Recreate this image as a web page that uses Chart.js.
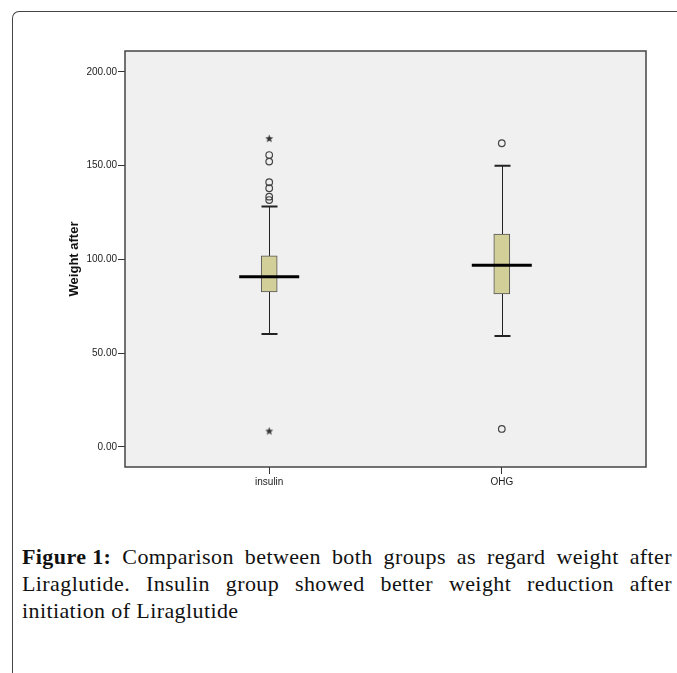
<!DOCTYPE html>
<html lang="en">
<head>
    <meta charset="UTF-8">
    <title>Weight after - boxplot</title>
    <script src="https://cdn.jsdelivr.net/npm/chart.js"></script>
    <style>
        body {
            margin: 0;
            background: #fff;
            width: 677px;
            height: 673px;
            overflow: hidden;
            position: relative;
        }
        .frame {
            position: absolute;
            left: 12px;
            top: 11px;
            width: 700px;
            height: 700px;
            border-top: 1.5px solid #444;
            border-left: 1.5px solid #444;
            border-top-left-radius: 7px;
        }
        #chart {
            position: absolute;
            left: 0;
            top: 0;
        }
        .caption {
            position: absolute;
            left: 22px;
            top: 543px;
            width: 650px;
            font-family: "Liberation Serif", "Times New Roman", serif;
            font-size: 22px;
            line-height: 27px;
            color: #111;
            letter-spacing: 0.4px;
        }
        .caption .line { text-align: justify; text-align-last: justify; white-space: nowrap; }
        .caption .line.last { text-align: left; text-align-last: left; }
        .caption .fig { display: inline-block; font-weight: bold; }
    </style>
</head>
<body>
    <div class="frame"></div>
    <canvas id="chart" width="677" height="500"></canvas>
    <div class="caption">
        <div class="line"><span class="fig">Figure 1:</span> Comparison between both groups as regard weight after</div>
        <div class="line">Liraglutide. Insulin group showed better weight reduction after</div>
        <div class="line last">initiation of Liraglutide</div>
    </div>

    <script>
        // Data
        const groups = ['insulin', 'OHG'];
        const groupPos = [1, 2];
        const whiskerLow = [60.3, 59.2];
        const q1 = [82.7, 81.6];
        const median = [90.8, 96.9];
        const q3 = [101.9, 113.6];
        const whiskerHigh = [128.2, 150.0];
        const outlierCircles = [[131.7, 133.5, 138.0, 141.2, 152.2, 155.7], [9.6, 162.0]];
        const outlierStars = [[8.5, 164.5], []];
        const yTicks = [0, 50, 100, 150, 200];

        // small filled star used for extreme values
        function makeStar() {
            const c = document.createElement('canvas');
            c.width = 9;
            c.height = 9;
            const g = c.getContext('2d');
            g.fillStyle = '#333';
            g.beginPath();
            for (let i = 0; i < 10; i++) {
                const r = i % 2 === 0 ? 4.2 : 1.8;
                const a = -Math.PI / 2 + i * Math.PI / 5;
                const px = 4.5 + r * Math.cos(a);
                const py = 4.8 + r * Math.sin(a);
                if (i === 0) g.moveTo(px, py); else g.lineTo(px, py);
            }
            g.closePath();
            g.fill();
            return c;
        }

        const circlePoints = [];
        const starPoints = [];
        groupPos.forEach((x, i) => {
            outlierCircles[i].forEach(v => circlePoints.push({x: x, y: v}));
            outlierStars[i].forEach(v => starPoints.push({x: x, y: v}));
        });

        // whiskers, caps and median lines, placed through the chart scales
        const boxParts = {
            id: 'boxParts',
            beforeDraw(chart) {
                const a = chart.chartArea;
                const ctx = chart.ctx;
                ctx.save();
                ctx.fillStyle = '#f0f0f0';
                ctx.fillRect(a.left, a.top, a.right - a.left, a.bottom - a.top);
                ctx.restore();
            },
            beforeDatasetsDraw(chart) {
                const xs = chart.scales.x, ys = chart.scales.y;
                const ctx = chart.ctx;
                ctx.save();
                ctx.strokeStyle = '#222';
                ctx.lineWidth = 1;
                groupPos.forEach((g, i) => {
                    const px = Math.round(xs.getPixelForValue(g)) + 0.5;
                    const lo = ys.getPixelForValue(whiskerLow[i]);
                    const hi = ys.getPixelForValue(whiskerHigh[i]);
                    ctx.beginPath();
                    ctx.moveTo(px, lo);
                    ctx.lineTo(px, hi);
                    ctx.stroke();
                    ctx.lineWidth = 2;
                    ctx.beginPath();
                    ctx.moveTo(px - 8, lo);
                    ctx.lineTo(px + 8, lo);
                    ctx.moveTo(px - 8, hi);
                    ctx.lineTo(px + 8, hi);
                    ctx.stroke();
                    ctx.lineWidth = 1;
                });
                ctx.restore();
            },
            afterDatasetsDraw(chart) {
                const xs = chart.scales.x, ys = chart.scales.y;
                const ctx = chart.ctx;
                const a = chart.chartArea;
                ctx.save();
                ctx.strokeStyle = '#000';
                ctx.lineWidth = 3;
                groupPos.forEach((g, i) => {
                    const px = xs.getPixelForValue(g);
                    const py = ys.getPixelForValue(median[i]);
                    ctx.beginPath();
                    ctx.moveTo(px - 30, py);
                    ctx.lineTo(px + 30, py);
                    ctx.stroke();
                });
                // plot frame
                ctx.strokeStyle = '#444';
                ctx.lineWidth = 1.5;
                ctx.strokeRect(a.left, a.top, a.right - a.left, a.bottom - a.top);
                ctx.restore();
            }
        };

        const ctx = document.getElementById('chart').getContext('2d');
        new Chart(ctx, {
            type: 'bar',
            data: {
                datasets: [
                    {
                        label: 'box',
                        data: groupPos.map((x, i) => ({x: x, y: [q1[i], q3[i]]})),
                        backgroundColor: '#d3cf98',
                        borderColor: '#555',
                        borderWidth: 1,
                        borderSkipped: false,
                        barThickness: 16,
                        order: 2
                    },
                    {
                        type: 'scatter',
                        label: 'outliers',
                        data: circlePoints,
                        pointStyle: 'circle',
                        pointRadius: 3.3,
                        borderColor: '#444',
                        backgroundColor: 'rgba(0,0,0,0)',
                        borderWidth: 1.2,
                        order: 1
                    },
                    {
                        type: 'scatter',
                        label: 'extremes',
                        data: starPoints,
                        pointStyle: makeStar(),
                        order: 1
                    }
                ]
            },
            options: {
                responsive: false,
                animation: false,
                events: [],
                layout: {
                    padding: {left: 0, top: 51, right: 31, bottom: 0}
                },
                plugins: {
                    legend: {display: false},
                    tooltip: {enabled: false}
                },
                scales: {
                    x: {
                        type: 'linear',
                        offset: false,
                        min: 0.38,
                        max: 2.62,
                        afterBuildTicks: s => { s.ticks = groupPos.map(v => ({value: v})); },
                        afterFit: s => { s.height = 33; },
                        border: {display: false},
                        grid: {
                            offset: false,
                            drawOnChartArea: false,
                            drawTicks: true,
                            tickLength: 7,
                            color: '#333'
                        },
                        ticks: {
                            padding: 2,
                            color: '#222',
                            maxRotation: 0,
                            font: {family: 'Liberation Sans, Arial, sans-serif', size: 10},
                            callback: v => groups[groupPos.indexOf(v)]
                        }
                    },
                    y: {
                        min: -10.7,
                        max: 211.2,
                        afterBuildTicks: s => { s.ticks = yTicks.map(v => ({value: v})); },
                        afterFit: s => { s.width = 125; },
                        border: {display: false},
                        grid: {
                            drawOnChartArea: false,
                            drawTicks: true,
                            tickLength: 7,
                            color: '#333'
                        },
                        ticks: {
                            padding: 1,
                            color: '#222',
                            font: {family: 'Liberation Sans, Arial, sans-serif', size: 10},
                            callback: v => v.toFixed(2)
                        },
                        title: {
                            display: true,
                            text: 'Weight after',
                            color: '#111',
                            font: {family: 'Liberation Sans, Arial, sans-serif', size: 13, weight: 'bold'},
                            padding: {top: 67, bottom: 0}
                        }
                    }
                }
            },
            plugins: [boxParts]
        });
    </script>
</body>
</html>
